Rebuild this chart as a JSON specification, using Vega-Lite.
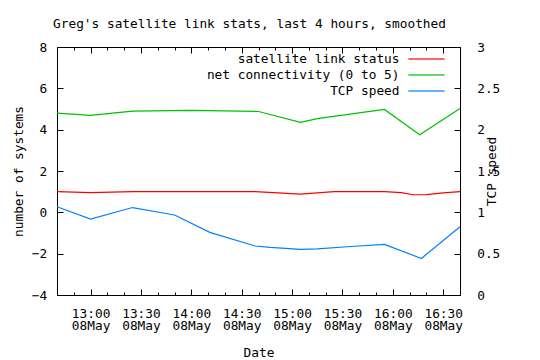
{
  "$schema": "https://vega.github.io/schema/vega-lite/v6.json",
  "width": 403,
  "height": 248,
  "autosize": {"type": "none"},
  "padding": {"left": 57, "top": 47, "right": 80, "bottom": 65},
  "background": "white",
  "title": {
    "text": "Greg's satellite link stats, last 4 hours, smoothed",
    "anchor": "middle",
    "frame": "group",
    "dx": -9,
    "baseline": "alphabetic",
    "offset": 0,
    "font": "DejaVu Sans Mono",
    "fontSize": 12.8,
    "fontWeight": "normal",
    "color": "black"
  },
  "config": {
    "font": "DejaVu Sans Mono",
    "view": {"stroke": "black", "strokeWidth": 1},
    "axis": {
      "labelFont": "DejaVu Sans Mono",
      "labelFontSize": 12.8,
      "labelColor": "black",
      "titleFont": "DejaVu Sans Mono",
      "titleFontSize": 12.8,
      "titleFontWeight": "normal",
      "titleColor": "black",
      "domain": false,
      "ticks": false,
      "tickSize": 0,
      "labelOverlap": false,
      "gridColor": "black",
      "gridOpacity": 1,
      "gridWidth": 1
    },
    "legend": {
      "labelFont": "DejaVu Sans Mono",
      "labelFontSize": 12.8,
      "labelColor": "black"
    }
  },
  "datasets": {
    "lefty": [
      {"t": "2008-05-08T12:40:00", "series": "satellite link status", "v": 1.0},
      {"t": "2008-05-08T13:00:00", "series": "satellite link status", "v": 0.95},
      {"t": "2008-05-08T13:25:00", "series": "satellite link status", "v": 1.0},
      {"t": "2008-05-08T14:38:00", "series": "satellite link status", "v": 1.0},
      {"t": "2008-05-08T15:05:00", "series": "satellite link status", "v": 0.88},
      {"t": "2008-05-08T15:15:00", "series": "satellite link status", "v": 0.94},
      {"t": "2008-05-08T15:25:00", "series": "satellite link status", "v": 1.0},
      {"t": "2008-05-08T15:55:00", "series": "satellite link status", "v": 1.0},
      {"t": "2008-05-08T16:05:00", "series": "satellite link status", "v": 0.95},
      {"t": "2008-05-08T16:12:00", "series": "satellite link status", "v": 0.85},
      {"t": "2008-05-08T16:20:00", "series": "satellite link status", "v": 0.86},
      {"t": "2008-05-08T16:30:00", "series": "satellite link status", "v": 0.94},
      {"t": "2008-05-08T16:40:00", "series": "satellite link status", "v": 1.0},
      {"t": "2008-05-08T12:40:00", "series": "net connectivity (0 to 5)", "v": 4.8},
      {"t": "2008-05-08T13:00:00", "series": "net connectivity (0 to 5)", "v": 4.69},
      {"t": "2008-05-08T13:25:00", "series": "net connectivity (0 to 5)", "v": 4.9},
      {"t": "2008-05-08T14:00:00", "series": "net connectivity (0 to 5)", "v": 4.93},
      {"t": "2008-05-08T14:40:00", "series": "net connectivity (0 to 5)", "v": 4.88},
      {"t": "2008-05-08T15:05:00", "series": "net connectivity (0 to 5)", "v": 4.35},
      {"t": "2008-05-08T15:15:00", "series": "net connectivity (0 to 5)", "v": 4.53},
      {"t": "2008-05-08T15:55:00", "series": "net connectivity (0 to 5)", "v": 4.98},
      {"t": "2008-05-08T16:16:00", "series": "net connectivity (0 to 5)", "v": 3.75},
      {"t": "2008-05-08T16:40:00", "series": "net connectivity (0 to 5)", "v": 5.03}
    ],
    "righty": [
      {"t": "2008-05-08T12:40:00", "series": "TCP speed", "v": 1.068},
      {"t": "2008-05-08T13:00:00", "series": "TCP speed", "v": 0.919},
      {"t": "2008-05-08T13:25:00", "series": "TCP speed", "v": 1.058},
      {"t": "2008-05-08T13:50:00", "series": "TCP speed", "v": 0.968},
      {"t": "2008-05-08T14:11:00", "series": "TCP speed", "v": 0.758},
      {"t": "2008-05-08T14:38:00", "series": "TCP speed", "v": 0.593},
      {"t": "2008-05-08T14:47:00", "series": "TCP speed", "v": 0.575},
      {"t": "2008-05-08T15:05:00", "series": "TCP speed", "v": 0.553},
      {"t": "2008-05-08T15:15:00", "series": "TCP speed", "v": 0.557},
      {"t": "2008-05-08T15:35:00", "series": "TCP speed", "v": 0.587},
      {"t": "2008-05-08T15:55:00", "series": "TCP speed", "v": 0.613},
      {"t": "2008-05-08T16:17:00", "series": "TCP speed", "v": 0.442},
      {"t": "2008-05-08T16:40:00", "series": "TCP speed", "v": 0.826}
    ]
  },
  "layer": [
    {
      "data": {"name": "lefty"},
      "mark": {"type": "line", "strokeWidth": 1.2},
      "encoding": {
        "x": {
          "field": "t",
          "type": "temporal",
          "axis": {
            "orient": "bottom",
            "title": "Date",
            "titleY": 51,
            "titleBaseline": "top",
            "grid": true,
            "values": [
              {"year": 2008, "month": 5, "date": 8, "hours": 12, "minutes": 40},
              {"year": 2008, "month": 5, "date": 8, "hours": 12, "minutes": 50},
              {"year": 2008, "month": 5, "date": 8, "hours": 13, "minutes": 0},
              {"year": 2008, "month": 5, "date": 8, "hours": 13, "minutes": 10},
              {"year": 2008, "month": 5, "date": 8, "hours": 13, "minutes": 20},
              {"year": 2008, "month": 5, "date": 8, "hours": 13, "minutes": 30},
              {"year": 2008, "month": 5, "date": 8, "hours": 13, "minutes": 40},
              {"year": 2008, "month": 5, "date": 8, "hours": 13, "minutes": 50},
              {"year": 2008, "month": 5, "date": 8, "hours": 14, "minutes": 0},
              {"year": 2008, "month": 5, "date": 8, "hours": 14, "minutes": 10},
              {"year": 2008, "month": 5, "date": 8, "hours": 14, "minutes": 20},
              {"year": 2008, "month": 5, "date": 8, "hours": 14, "minutes": 30},
              {"year": 2008, "month": 5, "date": 8, "hours": 14, "minutes": 40},
              {"year": 2008, "month": 5, "date": 8, "hours": 14, "minutes": 50},
              {"year": 2008, "month": 5, "date": 8, "hours": 15, "minutes": 0},
              {"year": 2008, "month": 5, "date": 8, "hours": 15, "minutes": 10},
              {"year": 2008, "month": 5, "date": 8, "hours": 15, "minutes": 20},
              {"year": 2008, "month": 5, "date": 8, "hours": 15, "minutes": 30},
              {"year": 2008, "month": 5, "date": 8, "hours": 15, "minutes": 40},
              {"year": 2008, "month": 5, "date": 8, "hours": 15, "minutes": 50},
              {"year": 2008, "month": 5, "date": 8, "hours": 16, "minutes": 0},
              {"year": 2008, "month": 5, "date": 8, "hours": 16, "minutes": 10},
              {"year": 2008, "month": 5, "date": 8, "hours": 16, "minutes": 20},
              {"year": 2008, "month": 5, "date": 8, "hours": 16, "minutes": 30},
              {"year": 2008, "month": 5, "date": 8, "hours": 16, "minutes": 40}
            ],
            "labelExpr": "minutes(datum.value) % 30 === 0 ? [timeFormat(datum.value, '%H:%M'), timeFormat(datum.value, '%d%b')] : ''",
            "labelPadding": 12,
            "labelLineHeight": 12.4,
            "labelFlush": false,
            "labelOverlap": false,
            "gridDash": {
              "condition": {"test": "minutes(datum.value) % 30 === 0", "value": [6, 236, 6, 60]},
              "value": [3, 242, 3, 60]
            }
          }
        },
        "y": {
          "field": "v",
          "type": "quantitative",
          "scale": {"domain": [-4, 8], "nice": false, "zero": false},
          "axis": {
            "orient": "left",
            "title": "number of systems",
            "values": [-4, -2, 0, 2, 4, 6, 8],
            "labelPadding": 10.3,
            "grid": true,
            "gridDash": [6, 1000],
            "titleAngle": 270,
            "titleAlign": "center",
            "titleBaseline": "middle",
            "titleX": -38.7,
            "titleY": 124
          }
        },
        "color": {
          "field": "series",
          "type": "nominal",
          "scale": {
            "domain": ["satellite link status", "net connectivity (0 to 5)", "TCP speed"],
            "range": ["#ff0000", "#00c000", "#0080ff"]
          },
          "legend": {
            "title": null,
            "orient": "none",
            "legendX": 143,
            "legendY": 5.5,
            "padding": 0,
            "symbolType": "M-3,-0.09H3V0.09H-3Z",
            "symbolSize": 144,
            "symbolStrokeWidth": 0,
            "symbolOffset": 220,
            "labelAlign": "right",
            "labelOffset": -33.5,
            "labelLimit": 400,
            "rowPadding": 2,
            "encode": {
              "symbols": {
                "update": {
                  "fill": {"scale": "color", "field": "value"},
                  "stroke": {"scale": "color", "field": "value"},
                  "strokeWidth": {"value": 0.2},
                  "fillOpacity": {"value": 1},
                  "strokeOpacity": {"value": 1}
                }
              }
            }
          }
        }
      }
    },
    {
      "data": {"name": "righty"},
      "mark": {"type": "line", "strokeWidth": 1.2},
      "encoding": {
        "x": {
          "field": "t",
          "type": "temporal",
          "axis": {
            "orient": "bottom",
            "title": "Date",
            "titleY": 51,
            "titleBaseline": "top",
            "grid": true,
            "values": [
              {"year": 2008, "month": 5, "date": 8, "hours": 12, "minutes": 40},
              {"year": 2008, "month": 5, "date": 8, "hours": 12, "minutes": 50},
              {"year": 2008, "month": 5, "date": 8, "hours": 13, "minutes": 0},
              {"year": 2008, "month": 5, "date": 8, "hours": 13, "minutes": 10},
              {"year": 2008, "month": 5, "date": 8, "hours": 13, "minutes": 20},
              {"year": 2008, "month": 5, "date": 8, "hours": 13, "minutes": 30},
              {"year": 2008, "month": 5, "date": 8, "hours": 13, "minutes": 40},
              {"year": 2008, "month": 5, "date": 8, "hours": 13, "minutes": 50},
              {"year": 2008, "month": 5, "date": 8, "hours": 14, "minutes": 0},
              {"year": 2008, "month": 5, "date": 8, "hours": 14, "minutes": 10},
              {"year": 2008, "month": 5, "date": 8, "hours": 14, "minutes": 20},
              {"year": 2008, "month": 5, "date": 8, "hours": 14, "minutes": 30},
              {"year": 2008, "month": 5, "date": 8, "hours": 14, "minutes": 40},
              {"year": 2008, "month": 5, "date": 8, "hours": 14, "minutes": 50},
              {"year": 2008, "month": 5, "date": 8, "hours": 15, "minutes": 0},
              {"year": 2008, "month": 5, "date": 8, "hours": 15, "minutes": 10},
              {"year": 2008, "month": 5, "date": 8, "hours": 15, "minutes": 20},
              {"year": 2008, "month": 5, "date": 8, "hours": 15, "minutes": 30},
              {"year": 2008, "month": 5, "date": 8, "hours": 15, "minutes": 40},
              {"year": 2008, "month": 5, "date": 8, "hours": 15, "minutes": 50},
              {"year": 2008, "month": 5, "date": 8, "hours": 16, "minutes": 0},
              {"year": 2008, "month": 5, "date": 8, "hours": 16, "minutes": 10},
              {"year": 2008, "month": 5, "date": 8, "hours": 16, "minutes": 20},
              {"year": 2008, "month": 5, "date": 8, "hours": 16, "minutes": 30},
              {"year": 2008, "month": 5, "date": 8, "hours": 16, "minutes": 40}
            ],
            "labelExpr": "minutes(datum.value) % 30 === 0 ? [timeFormat(datum.value, '%H:%M'), timeFormat(datum.value, '%d%b')] : ''",
            "labelPadding": 12,
            "labelLineHeight": 12.4,
            "labelFlush": false,
            "labelOverlap": false,
            "gridDash": {
              "condition": {"test": "minutes(datum.value) % 30 === 0", "value": [6, 236, 6, 60]},
              "value": [3, 242, 3, 60]
            }
          }
        },
        "y": {
          "field": "v",
          "type": "quantitative",
          "scale": {"domain": [0, 3], "nice": false},
          "axis": {
            "orient": "right",
            "title": "TCP speed",
            "values": [0, 0.5, 1, 1.5, 2, 2.5, 3],
            "format": "~g",
            "labelPadding": 16.7,
            "grid": true,
            "gridDash": [6, 1000],
            "titleAngle": 270,
            "titleAlign": "center",
            "titleBaseline": "middle",
            "titleX": 31,
            "titleY": 124
          }
        },
        "color": {
          "field": "series",
          "type": "nominal",
          "scale": {
            "domain": ["satellite link status", "net connectivity (0 to 5)", "TCP speed"],
            "range": ["#ff0000", "#00c000", "#0080ff"]
          },
          "legend": {
            "title": null,
            "orient": "none",
            "legendX": 143,
            "legendY": 5.5,
            "padding": 0,
            "symbolType": "M-3,-0.09H3V0.09H-3Z",
            "symbolSize": 144,
            "symbolStrokeWidth": 0,
            "symbolOffset": 220,
            "labelAlign": "right",
            "labelOffset": -33.5,
            "labelLimit": 400,
            "rowPadding": 2,
            "encode": {
              "symbols": {
                "update": {
                  "fill": {"scale": "color", "field": "value"},
                  "stroke": {"scale": "color", "field": "value"},
                  "strokeWidth": {"value": 0.2},
                  "fillOpacity": {"value": 1},
                  "strokeOpacity": {"value": 1}
                }
              }
            }
          }
        }
      }
    }
  ],
  "resolve": {
    "scale": {"y": "independent"}
  }
}
